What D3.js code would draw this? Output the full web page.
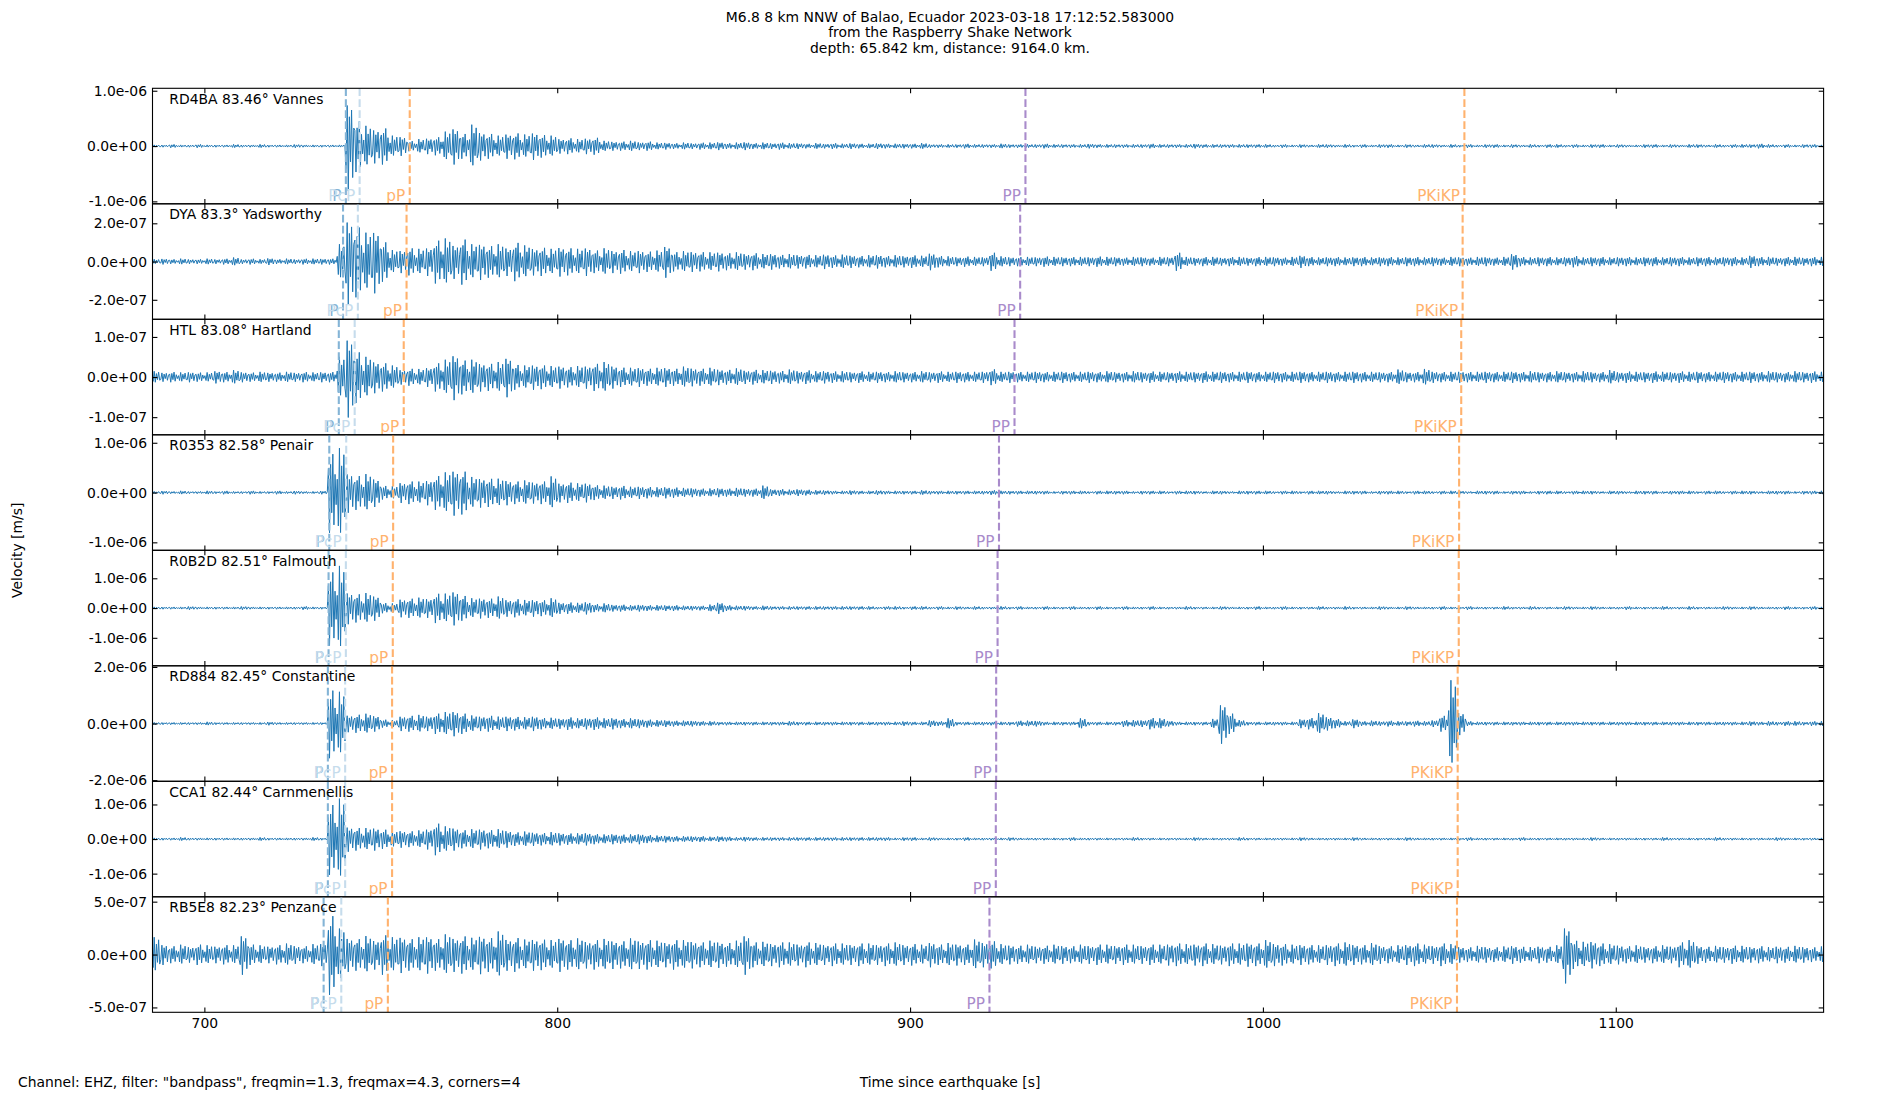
<!DOCTYPE html>
<html>
<head>
<meta charset="utf-8">
<script src="https://cdn.jsdelivr.net/npm/d3@7/dist/d3.min.js"></script>
<style>
  body { margin: 0; background: #ffffff; }
  svg { display: block; }
  text { font-family: "DejaVu Sans", sans-serif; }
</style>
</head>
<body>
<svg id="chart" width="1900" height="1100"></svg>
<script>
// ---------------- DATA ----------------
const titleLines = [
  "M6.8 8 km NNW of Balao, Ecuador 2023-03-18 17:12:52.583000",
  "from the Raspberry Shake Network",
  "depth: 65.842 km, distance: 9164.0 km."
];
const footerText = 'Channel: EHZ, filter: "bandpass", freqmin=1.3, freqmax=4.3, corners=4';
const xAxisTitle = "Time since earthquake [s]";
const yAxisTitle = "Velocity [m/s]";

const stationLabels = [
  "RD4BA 83.46° Vannes",
  "DYA 83.3° Yadsworthy",
  "HTL 83.08° Hartland",
  "R0353 82.58° Penair",
  "R0B2D 82.51° Falmouth",
  "RD884 82.45° Constantine",
  "CCA1 82.44° Carnmenellis",
  "RB5E8 82.23° Penzance"
];
// symmetric y-limit of each panel (m/s)
const ampLimits = [1.044e-6, 3.02e-7, 1.44e-7, 1.16e-6, 1.94e-6, 2.04e-6, 1.67e-6, 5.46e-7];
const yTickValues = [
  [-1e-6, 0, 1e-6], [-2e-7, 0, 2e-7], [-1e-7, 0, 1e-7], [-1e-6, 0, 1e-6],
  [-1e-6, 0, 1e-6], [-2e-6, 0, 2e-6], [-1e-6, 0, 1e-6], [-5e-7, 0, 5e-7]
];
const xTickValues = [700, 800, 900, 1000, 1100];
const timeDomain = [685.3, 1158.9];

const phaseNames = ["P", "PcP", "pP", "PP", "PKiKP"];
// arrival times (s) per station, in phaseNames order
const arrivalTimes = [
  [740.1, 744.0, 758.2, 932.7, 1057.1],
  [739.3, 743.5, 757.3, 931.2, 1056.6],
  [738.1, 742.6, 756.5, 929.6, 1056.2],
  [735.4, 740.2, 753.5, 925.2, 1055.6],
  [735.2, 740.1, 753.4, 924.8, 1055.5],
  [735.0, 739.9, 753.2, 924.4, 1055.2],
  [735.0, 739.9, 753.2, 924.3, 1055.2],
  [733.8, 738.8, 752.0, 922.5, 1055.0]
];

// Peak amplitude of each 2.5 s window, in % of the panel's y-limit
const binStart = 685;
const binWidth = 2.5;

const envRD4BA = [
  2,2,3,2,2,3,2,2,2,3,  2,2,3,2,2,2,3,2,2,2,
  2,2,78,45,35,30,32,18,17,9,  12,14,16,25,32,22,37,25,22,18,
  22,23,20,24,20,18,13,14,12,14,  15,9,8,8,9,7,8,6,6,5,
  6,5,6,6,7,5,6,7,5,6,  5,6,5,5,4,5,4,5,4,5,
  4,4,5,4,4,4,4,5,3,3,  3,3,4,3,3,3,4,3,3,3,
  3,4,3,3,3,3,4,3,3,3,  3,3,3,4,3,3,3,3,4,3,
  3,3,3,3,3,3,3,2,3,2,  3,2,3,3,2,3,2,3,2,3,
  3,2,3,2,3,3,2,3,2,3,  2,3,3,2,3,2,3,2,3,3,
  2,3,2,3,3,2,3,2,2,3,  3,2,3,2,3,3,2,3,2,3,
  3,3,4,3,2,3,2,3,3,2
];
const envDYA = [
  4,5,4,5,4,4,5,4,5,7,  4,5,4,6,4,5,4,5,5,5,
  5,30,75,62,50,55,35,20,20,24,  22,25,38,40,30,40,30,32,28,30,
  25,34,28,24,25,22,26,24,22,25,  20,23,20,21,18,20,18,19,28,17,
  18,18,17,16,17,15,16,14,15,13,  14,12,13,12,12,11,13,11,12,11,
  10,11,12,10,11,10,11,10,15,10,  9,8,9,8,8,16,9,8,8,8,
  8,9,8,8,8,8,8,9,8,8,  7,8,8,7,8,8,16,8,7,8,
  8,7,8,8,7,8,8,8,7,8,  11,8,7,8,8,7,8,8,7,8,
  8,7,8,8,7,8,7,8,8,7,  8,8,7,8,14,8,7,8,8,7,
  8,10,7,8,8,7,8,8,7,8,  8,7,8,8,7,8,8,7,8,8,
  7,11,8,8,7,8,8,7,8,8
];
const envHTL = [
  10,8,9,8,9,8,8,11,9,12,  9,8,9,8,8,9,8,9,8,9,
  9,35,70,45,35,28,25,20,13,15,  14,17,25,30,40,30,30,25,24,26,
  35,22,20,22,21,19,20,18,19,20,  24,26,20,17,16,17,15,16,17,15,
  18,16,15,16,14,13,15,12,13,12,  12,11,13,11,12,10,11,10,10,9,
  10,9,10,9,10,9,9,10,9,10,  9,10,9,9,10,14,9,10,9,9,
  10,9,9,10,9,9,10,9,10,9,  9,10,9,10,9,9,10,9,9,10,
  9,10,9,9,10,9,9,10,9,9,  10,9,9,10,9,9,10,9,9,9,
  9,13,9,9,14,10,9,9,10,9,  9,10,9,9,10,9,10,9,9,10,
  9,9,10,9,9,12,9,10,9,9,  10,9,9,10,9,10,9,9,10,9,
  9,10,9,10,9,9,10,9,10,9
];
const envR0353 = [
  2,3,2,3,2,2,3,2,3,2,  2,3,2,2,3,2,3,2,2,3,
  70,77,35,30,32,25,12,11,18,20,  19,22,30,35,40,38,27,26,25,24,
  22,20,21,19,20,28,17,18,16,17,  13,12,11,12,10,11,10,9,10,9,
  8,8,7,7,8,7,8,7,7,12,  6,6,5,6,5,4,4,3,3,4,
  3,3,4,3,3,3,3,4,3,3,  3,3,3,3,3,4,3,3,3,3,
  3,3,2,3,3,3,2,3,3,3,  3,2,3,3,3,2,3,3,3,2,
  3,3,2,3,3,3,3,2,3,3,  2,3,3,3,2,3,3,3,2,3,
  3,3,2,3,3,2,3,3,3,2,  3,3,3,2,3,3,2,3,3,3,
  2,3,3,3,2,3,3,2,3,3,  3,2,3,3,3,2,3,3,2,3,
  3,3,2,3,3,3,2,3,3,3
];
const envR0B2D = [
  2,2,2,2,3,2,2,2,2,2,  3,2,2,2,2,2,2,3,2,2,
  65,73,28,25,26,22,9,8,16,17,  18,17,26,25,30,22,17,18,17,20,
  15,16,14,15,14,17,10,10,9,11,  7,8,6,6,5,6,5,5,5,5,
  4,4,4,6,10,5,4,4,3,4,  3,3,3,3,3,3,3,3,3,3,
  3,3,2,3,3,2,3,3,2,3,  2,3,2,3,2,2,3,2,3,2,
  2,3,2,2,3,2,2,3,2,2,  3,2,2,3,2,2,2,3,2,2,
  2,3,2,2,2,3,2,2,3,2,  2,2,3,2,2,3,2,2,2,3,
  2,2,3,2,2,2,3,2,2,3,  2,2,2,3,2,2,3,2,2,2,
  3,2,2,3,2,2,2,3,2,2,  2,3,2,2,3,2,2,2,3,2,
  2,3,2,2,2,3,2,2,3,2
];
const envRD884 = [
  2,2,2,2,2,2,3,2,2,2,  2,2,2,3,2,2,2,2,2,2,
  60,55,15,16,17,14,7,6,13,14,  15,13,18,20,22,18,14,13,14,12,
  13,12,11,13,10,10,9,11,9,10,  11,9,10,8,9,8,7,6,6,5,
  5,5,4,4,3,3,3,3,3,3,  3,3,4,3,3,3,3,3,3,3,
  3,3,3,3,3,4,3,3,6,4,  9,3,3,3,3,3,3,3,5,5,
  5,3,3,3,3,9,3,3,3,3,  6,6,6,10,9,5,3,3,3,3,
  8,35,18,6,3,3,3,3,3,3,  8,10,18,12,8,4,8,4,5,4,
  5,4,4,5,4,6,14,75,20,4,  3,3,3,3,3,3,3,3,3,3,
  3,3,3,3,3,3,3,3,3,3,  3,3,3,3,3,3,3,3,3,3,
  3,4,3,4,3,4,4,3,4,4
];
const envCCA1 = [
  2,2,2,3,2,2,2,2,2,2,  2,2,3,2,2,2,2,2,3,2,
  62,70,22,20,19,20,17,14,15,14,  15,18,28,22,20,16,17,18,16,17,
  15,12,13,12,11,12,11,10,10,11,  9,8,9,8,8,9,7,6,6,5,
  5,5,5,4,5,4,3,4,3,3,  3,3,3,3,3,3,3,3,3,3,
  3,3,3,3,2,3,3,2,3,2,  2,2,3,2,2,2,2,3,2,2,
  2,2,2,2,3,2,2,2,2,2,  2,3,2,2,2,2,2,2,3,2,
  2,2,2,3,2,2,2,2,2,2,  3,2,2,2,2,2,3,2,2,2,
  2,2,3,2,2,2,2,2,2,3,  2,2,2,2,2,3,2,2,2,2,
  2,2,2,3,2,2,2,2,2,2,  2,3,2,2,2,2,2,3,2,2,
  2,2,2,2,3,2,2,2,2,2
];
const envRB5E8 = [
  30,18,15,17,14,18,16,15,17,16,  35,18,16,15,17,19,16,15,18,20,
  70,45,30,28,32,26,35,30,32,28,  30,33,28,35,30,33,29,34,30,40,
  28,30,26,28,27,25,30,26,28,24,  26,27,25,24,28,25,26,24,22,26,
  25,24,22,24,23,21,24,35,22,22,  20,22,21,19,22,20,18,20,19,18,
  20,19,18,20,21,18,19,17,22,18,  20,19,18,26,22,24,18,17,16,17,
  15,16,17,16,15,17,16,18,17,16,  18,17,16,18,17,19,20,18,19,20,
  18,17,20,19,21,20,25,20,19,17,  18,17,16,18,20,21,18,17,20,16,
  15,16,18,20,17,16,20,18,14,13,  15,14,13,14,16,14,13,15,14,16,
  50,25,22,24,20,18,17,15,16,14,  15,16,15,22,25,16,14,15,14,16,
  15,14,15,13,15,14,15,14,13,14
];
const envelopes = [envRD4BA, envDYA, envHTL, envR0353, envR0B2D, envRD884, envCCA1, envRB5E8];

// ---------------- LAYOUT / STYLE ----------------
const figW = 1900, figH = 1100;
const plotLeft = 152.5, plotRight = 1823.6, plotTop = 88.3, panelH = 115.5;
const nPanels = stationLabels.length;
const plotBottom = plotTop + nPanels * panelH;
const traceColor = "#1f77b4";
const phaseColors = { "P": "#84b4d6", "PcP": "#c6dcec", "pP": "#ffb26e", "PP": "#a98bcb", "PKiKP": "#ffb26e" };
// stroke shapes used to draw each amplitude window as a dense oscillating glyph
const windowGlyphs = [
  [0.3, -0.75, 1, -0.9, 0.6, -0.45, 0.85, -0.55],
  [-0.5, 0.9, -1, 0.65, -0.35, 0.8, -0.7, 0.4],
  [0.6, -1, 0.7, -0.5, 0.95, -0.8, 0.45, -0.3]
];
const tickLen = 4.9;

function sciFmt(v) {
  if (v === 0) return "0.0e+00";
  const e = Math.floor(Math.log10(Math.abs(v)) + 1e-9);
  const m = v / Math.pow(10, e);
  return m.toFixed(1) + "e" + (e < 0 ? "-" : "+") + String(Math.abs(e)).padStart(2, "0");
}

const svg = d3.select("#chart");
svg.append("rect").attr("width", figW).attr("height", figH).attr("fill", "#ffffff");

const x = d3.scaleLinear().domain(timeDomain).range([plotLeft, plotRight]);
const defs = svg.append("defs");

stationLabels.forEach((label, k) => {
  const y0 = plotTop + k * panelH;
  const lim = ampLimits[k];
  const y = d3.scaleLinear().domain([-lim, lim]).range([y0 + panelH, y0]);
  const g = svg.append("g");

  const clipId = "clip" + k;
  defs.append("clipPath").attr("id", clipId)
    .append("rect").attr("x", plotLeft).attr("y", y0).attr("width", plotRight - plotLeft).attr("height", panelH);

  // waveform
  const pts = [];
  envelopes[k].forEach((pct, i) => {
    const t0 = binStart + i * binWidth;
    const glyph = windowGlyphs[i % windowGlyphs.length];
    glyph.forEach((s, j) => {
      pts.push([t0 + (j + 0.5) * binWidth / glyph.length, s * pct / 100 * lim]);
    });
  });
  g.append("path")
    .attr("clip-path", `url(#${clipId})`)
    .attr("d", d3.line().x(d => x(d[0])).y(d => y(d[1]))(pts))
    .attr("fill", "none")
    .attr("stroke", traceColor)
    .attr("stroke-width", 1.0)
    .attr("stroke-linejoin", "round");

  // phase arrival lines
  const ph = g.append("g").attr("clip-path", `url(#${clipId})`);
  phaseNames.forEach((name, j) => {
    const px = x(arrivalTimes[k][j]);
    ph.append("line")
      .attr("x1", px).attr("x2", px).attr("y1", y0).attr("y2", y0 + panelH)
      .attr("stroke", phaseColors[name]).attr("stroke-width", 2.1)
      .attr("stroke-dasharray", "7.7,3.3");
  });
  phaseNames.forEach((name, j) => {
    const px = x(arrivalTimes[k][j]);
    g.append("text")
      .attr("x", px - 4.5).attr("y", y0 + panelH - 3.3)
      .attr("text-anchor", "end")
      .attr("font-size", "15.3px")
      .attr("fill", phaseColors[name])
      .text(name);
  });

  // axes
  const yl = g.append("g").attr("transform", `translate(${plotLeft},0)`)
    .call(d3.axisLeft(y).tickValues(yTickValues[k]).tickFormat(sciFmt).tickSize(-tickLen).tickPadding(5.5));
  const yr = g.append("g").attr("transform", `translate(${plotRight},0)`)
    .call(d3.axisRight(y).tickValues(yTickValues[k]).tickFormat(() => "").tickSize(-tickLen));
  const xt = g.append("g").attr("transform", `translate(0,${y0})`)
    .call(d3.axisTop(x).tickValues(xTickValues).tickFormat(() => "").tickSize(-tickLen));
  const xb = g.append("g").attr("transform", `translate(0,${y0 + panelH})`)
    .call(d3.axisBottom(x).tickValues(xTickValues)
      .tickFormat(k === nPanels - 1 ? d3.format("d") : () => "")
      .tickSize(-tickLen).tickPadding(6));
  [yl, yr, xt, xb].forEach(a => {
    a.select(".domain").remove();
    a.selectAll("line").attr("stroke", "#000").attr("stroke-width", 1.1);
    a.selectAll("text").attr("font-family", "DejaVu Sans").attr("font-size", "13.9px").attr("fill", "#000");
  });

  // frame
  g.append("rect").attr("x", plotLeft).attr("y", y0).attr("width", plotRight - plotLeft).attr("height", panelH)
    .attr("fill", "none").attr("stroke", "#000").attr("stroke-width", 1.1);

  // station label
  g.append("text").attr("x", 169.3).attr("y", y0 + 15.2)
    .attr("font-size", "13.9px").attr("fill", "#000").text(label);
});

// titles
const titleBaselines = [21.7, 37.3, 53.3];
titleLines.forEach((t, i) => {
  svg.append("text").attr("x", 950).attr("y", titleBaselines[i])
    .attr("text-anchor", "middle").attr("font-size", "13.9px").attr("fill", "#000").text(t);
});
svg.append("text").attr("x", 18).attr("y", 1086.5)
  .attr("font-size", "13.9px").attr("fill", "#000").text(footerText);
svg.append("text").attr("x", 950).attr("y", 1086.5).attr("text-anchor", "middle")
  .attr("font-size", "13.9px").attr("fill", "#000").text(xAxisTitle);
svg.append("text").attr("transform", `translate(17,${(plotTop + plotBottom) / 2}) rotate(-90)`)
  .attr("text-anchor", "middle").attr("dominant-baseline", "central")
  .attr("font-size", "13.9px").attr("fill", "#000").text(yAxisTitle);
</script>
</body>
</html>
